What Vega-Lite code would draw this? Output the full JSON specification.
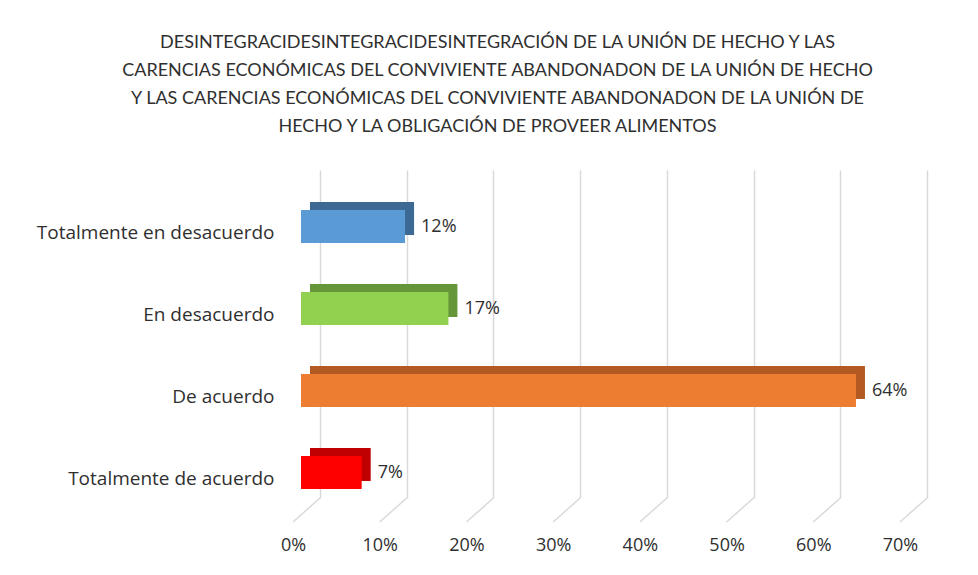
{
  "$schema": "https://vega.github.io/schema/vega-lite/v6.json",
  "autosize": "none",
  "width": 607,
  "height": 328,
  "padding": {"left": 320, "top": 170, "right": 51, "bottom": 77},
  "background": "#ffffff",
  "config": {
    "view": {"stroke": null},
    "font": "Open Sans",
    "axis": {"labelFont": "Open Sans", "labelFontSize": 18, "labelColor": "#2f2f2f"}
  },
  "title": {
    "text": [
      "DESINTEGRACIDESINTEGRACIDESINTEGRACIÓN DE LA UNIÓN DE HECHO Y LAS",
      "CARENCIAS ECONÓMICAS DEL CONVIVIENTE ABANDONADON DE LA UNIÓN DE HECHO",
      "Y LAS CARENCIAS ECONÓMICAS DEL CONVIVIENTE ABANDONADON DE LA UNIÓN DE",
      "HECHO Y LA OBLIGACIÓN DE PROVEER ALIMENTOS"
    ],
    "anchor": "middle",
    "frame": "group",
    "dx": -126,
    "offset": 34,
    "font": "Lato",
    "fontSize": 18,
    "fontWeight": "normal",
    "lineHeight": 28,
    "color": "#2f2f2f"
  },
  "datasets": {
    "respuestas": [
      {"categoria": "Totalmente en desacuerdo", "valor": 0.12},
      {"categoria": "En desacuerdo", "valor": 0.17},
      {"categoria": "De acuerdo", "valor": 0.64},
      {"categoria": "Totalmente de acuerdo", "valor": 0.07}
    ],
    "marcas": [
      {"v": 0}, {"v": 0.1}, {"v": 0.2}, {"v": 0.3}, {"v": 0.4}, {"v": 0.5}, {"v": 0.6}, {"v": 0.7}
    ]
  },
  "layer": [
    {
      "data": {"name": "marcas"},
      "mark": {"type": "rule", "color": "#d9d9d9", "strokeWidth": 1.5, "x2Offset": -27},
      "encoding": {
        "x": {"field": "v", "type": "quantitative", "scale": {"domain": [0, 0.7], "nice": false},
          "axis": {"values": [0, 0.1, 0.2, 0.3, 0.4, 0.5, 0.6, 0.7], "format": ".0%", "title": null, "domain": false, "ticks": false,
            "grid": true, "gridColor": "#d9d9d9", "gridWidth": 1.5, "labelOffset": -27, "labelPadding": 38, "labelFlush": false}},
        "x2": {"field": "v"},
        "y": {"value": {"expr": "height"}},
        "y2": {"value": {"expr": "height + 24"}}
      }
    },
    {
      "data": {"name": "respuestas"},
      "mark": {"type": "bar", "height": 33, "xOffset": -10, "x2Offset": -10, "yOffset": 7.5},
      "encoding": {
        "y": {"field": "categoria", "type": "nominal", "sort": null,
          "scale": {"domain": ["Totalmente en desacuerdo", "En desacuerdo", "De acuerdo", "Totalmente de acuerdo"], "paddingInner": 0, "paddingOuter": 0},
          "axis": {"title": null, "domain": false, "ticks": false, "labelPadding": 46, "labelOffset": 22, "labelLimit": 400, "labelFontSize": 19}},
        "x": {"field": "valor", "type": "quantitative"},
        "x2": {"datum": 0},
        "color": {"field": "categoria", "type": "nominal", "legend": null,
          "scale": {"domain": ["Totalmente en desacuerdo", "En desacuerdo", "De acuerdo", "Totalmente de acuerdo"],
            "range": ["#3c6a94", "#66963a", "#b25a22", "#c00000"]}}
      }
    },
    {
      "data": {"name": "respuestas"},
      "mark": {"type": "bar", "height": 33, "xOffset": -19, "x2Offset": -19, "yOffset": 15.5},
      "encoding": {
        "y": {"field": "categoria", "type": "nominal", "sort": null},
        "x": {"field": "valor", "type": "quantitative"},
        "x2": {"datum": 0},
        "fill": {"field": "categoria", "type": "nominal", "legend": null,
          "scale": {"domain": ["Totalmente en desacuerdo", "En desacuerdo", "De acuerdo", "Totalmente de acuerdo"],
            "range": ["#5b9bd5", "#92d050", "#ed7d31", "#ff0000"]}}
      }
    },
    {
      "data": {"name": "respuestas"},
      "mark": {"type": "text", "align": "left", "baseline": "middle", "dx": -3, "dy": 16, "fontSize": 18, "font": "Open Sans", "color": "#2f2f2f"},
      "encoding": {
        "y": {"field": "categoria", "type": "nominal", "sort": null},
        "x": {"field": "valor", "type": "quantitative"},
        "text": {"field": "valor", "type": "quantitative", "format": ".0%"}
      }
    }
  ],
  "resolve": {"scale": {"color": "independent", "fill": "independent"}}
}
